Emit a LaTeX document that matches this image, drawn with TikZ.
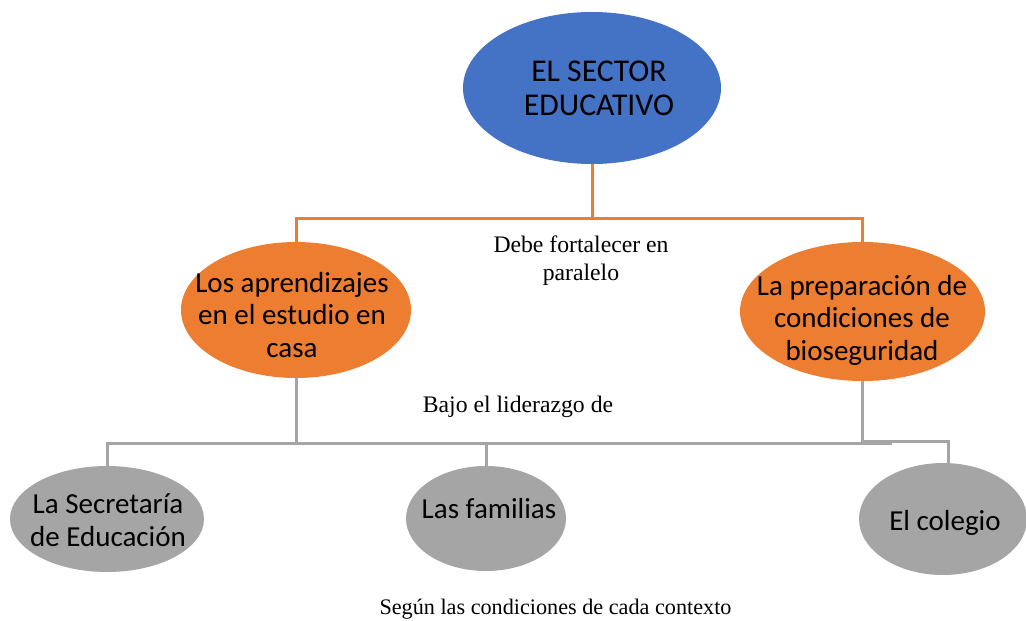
\documentclass[tikz,border=0pt]{standalone}
\usepackage{fontspec}
\setmainfont{Liberation Serif}
\newfontfamily\calfont{Carlito}
\usetikzlibrary{shapes.geometric}
\definecolor{cblue}{HTML}{4472C4}
\definecolor{corange}{HTML}{ED7D31}
\definecolor{cgray}{HTML}{A5A5A5}
\tikzset{
  oval/.style={shape=ellipse, inner sep=0pt, draw=none},
  ctext/.style={font=\calfont\fontsize{29}{32.5}\selectfont, align=center, inner sep=0pt},
  ttext/.style={font=\fontsize{23.7}{28}\selectfont, align=center, inner sep=0pt},
  oline/.style={draw=corange, line width=3pt},
  gline/.style={draw=cgray, line width=3pt},
}
\begin{document}
\begin{tikzpicture}[x=1pt,y=-1pt]
\useasboundingbox (0,0) rectangle (1026,621);
% ellipses
\node[oval, fill=cblue, minimum width=258pt, minimum height=152pt] (T) at (592,88) {};
\node[oval, fill=corange, minimum width=230pt, minimum height=136pt] (L) at (296,310) {};
\node[oval, fill=corange, minimum width=245pt, minimum height=139pt] (R) at (862.5,311.5) {};
\node[oval, fill=cgray, minimum width=194pt, minimum height=106pt] (S) at (107,519) {};
\node[oval, fill=cgray, minimum width=160pt, minimum height=105pt] (F) at (486,518.5) {};
\node[oval, fill=cgray, minimum width=168pt, minimum height=112pt] (C) at (943,519) {};
% texts in ellipses
\node[ctext, font=\calfont\fontsize{31.7}{33.5}\selectfont] (Tt) at (599,88.5) {EL SECTOR\\EDUCATIVO};
\node[ctext] (Lt) at (292,315) {Los aprendizajes\\en el estudio en\\casa};
\node[ctext] (Rt) at (862,320) {La preparación de\\condiciones de\\bioseguridad};
\node[ctext] (St) at (108,520) {La Secretaría\\de Educación};
\node[ctext, anchor=base] (Ft) at (489,518) {Las familias};
\node[ctext, anchor=base] (Ct) at (945,530) {El colegio};
% connector labels
\node[ttext] (d1) at (581,260.5) {Debe fortalecer en\\paralelo};
\node[ttext, anchor=base] (d2) at (518,412) {Bajo el liderazgo de};
\node[ttext, font=\fontsize{22.2}{26}\selectfont, anchor=base] (d3) at (555.5,614) {Según las condiciones de cada contexto};
% orange connectors
\coordinate (oj) at (592,218);
\draw[oline] (T.south) -- (oj);
\draw[oline] (L.north) |- (oj) -| (R.north);
% gray connectors
\coordinate (hl) at (107,443);
\coordinate (hr) at (892,443);
\coordinate (cj) at (948,441.5);
\draw[gline] (S.north) |- (hr);
\draw[gline] (L.south) -- (L.south |- hl);
\draw[gline] (F.north) -- (F.north |- hl);
\draw[gline] (R.south) |- (cj) -- (cj |- C.north);
\end{tikzpicture}
\end{document}
